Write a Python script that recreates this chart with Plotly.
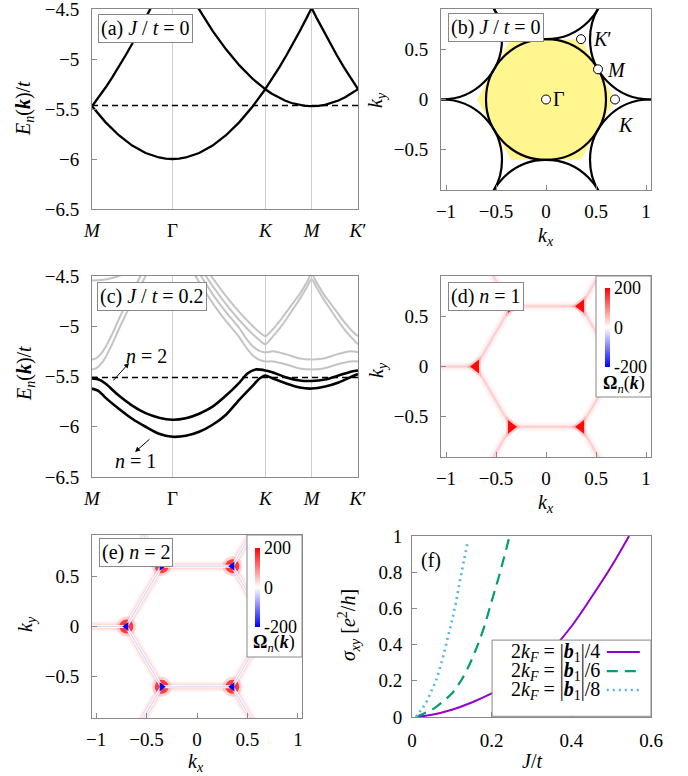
import plotly.graph_objects as go

SERIF = "Liberation Serif, Times New Roman, serif"
W, H = 688, 776

# ---------------- data ----------------
# path coordinate along M - Γ - K - M - K'
path_ticks = [0.0, 0.6, 1.293, 1.639, 1.985]
path_labels = ["<i>M</i>", "Γ", "<i>K</i>", "<i>M</i>", "<i>K</i>′"]
E_ticks = [-6.5, -6.0, -5.5, -5.0, -4.5]
E_ticklabels = ["−6.5", "−6", "−5.5", "−5", "−4.5"]

# (a) J/t = 0 bands
a_b1_s = [0, 0.1, 0.2, 0.3, 0.4, 0.45, 0.5, 0.55, 0.6, 0.65, 0.7, 0.8, 0.9, 1.0, 1.1, 1.2, 1.25, 1.293,
          1.339, 1.389, 1.439, 1.489, 1.539, 1.589, 1.639, 1.689, 1.739, 1.789, 1.839, 1.889, 1.939, 1.985]
a_b1_E = [-5.472, -5.631, -5.762, -5.866, -5.940, -5.966, -5.985, -5.996, -6.0, -5.996, -5.985, -5.940, -5.866,
          -5.762, -5.631, -5.472, -5.383, -5.302, -5.344, -5.383, -5.415, -5.440, -5.458, -5.469, -5.472,
          -5.469, -5.458, -5.440, -5.415, -5.383, -5.344, -5.302]
a_b2_s = [0, 0.05, 0.1, 0.15, 0.2, 0.25, 0.3, 0.35, 0.4, 0.45]
a_b2_E = [-5.472, -5.383, -5.288, -5.186, -5.079, -4.965, -4.847, -4.723, -4.594, -4.461]
a_b3_s = [0.75, 0.8, 0.9, 1.0, 1.1, 1.2, 1.293]
a_b3_E = [-4.399, -4.510, -4.718, -4.903, -5.064, -5.200, -5.302]
a_b4_s = [1.293, 1.350, 1.400, 1.450, 1.500, 1.550, 1.600, 1.639, 1.678, 1.728, 1.778, 1.828, 1.878, 1.928, 1.985]
a_b4_E = [-5.302, -5.186, -5.079, -4.965, -4.847, -4.723, -4.594, -4.490, -4.594, -4.723, -4.847, -4.965,
          -5.079, -5.186, -5.302]
a_EF = -5.465

# (c) J/t = 0.2 bands
c_n1_s = [0, 0.05, 0.1, 0.2, 0.3, 0.4, 0.5, 0.6, 0.7, 0.8, 0.9, 1.0, 1.1, 1.2, 1.25, 1.293, 1.35, 1.45, 1.55,
          1.639, 1.74, 1.84, 1.94, 1.985]
c_n1_E = [-5.62, -5.645, -5.71, -5.82, -5.92, -6.00, -6.07, -6.10, -6.09, -6.05, -5.98, -5.88, -5.73, -5.59,
          -5.52, -5.49, -5.52, -5.57, -5.61, -5.62, -5.60, -5.56, -5.50, -5.475]
c_n2_s = [0, 0.05, 0.1, 0.2, 0.3, 0.4, 0.5, 0.6, 0.7, 0.8, 0.9, 1.0, 1.1, 1.16, 1.22, 1.293, 1.35, 1.45, 1.55,
          1.639, 1.74, 1.84, 1.94, 1.985]
c_n2_E = [-5.52, -5.53, -5.57, -5.69, -5.79, -5.865, -5.91, -5.93, -5.915, -5.87, -5.80, -5.69, -5.56, -5.47,
          -5.43, -5.44, -5.46, -5.51, -5.54, -5.545, -5.53, -5.49, -5.45, -5.44]
c_EF = -5.51
# grey (other) bands
c_g1_s = [0, 0.03, 0.07, 0.1, 0.15, 0.2, 0.25, 0.3, 0.35, 0.4]
c_g1_E = [-5.33, -5.32, -5.27, -5.21, -5.08, -4.93, -4.79, -4.66, -4.53, -4.40]
c_g2_s = [0, 0.03, 0.07, 0.1, 0.15, 0.2, 0.25, 0.3, 0.35, 0.4, 0.45]
c_g2_E = [-5.43, -5.42, -5.37, -5.31, -5.18, -5.03, -4.89, -4.76, -4.63, -4.50, -4.37]
c_g3_s = [0, 0.1, 0.2, 0.3]
c_g3_E = [-4.545, -4.535, -4.50, -4.45]
c_v1_s = [0.85, 0.9, 1.0, 1.1, 1.2, 1.25, 1.293, 1.35, 1.4, 1.45, 1.5, 1.55, 1.6, 1.639,
          1.678, 1.728, 1.778, 1.828, 1.878, 1.935, 1.985]
c_v1_E = [-4.42, -4.52, -4.70, -4.86, -5.00, -5.06, -5.10, -5.03, -4.95, -4.86, -4.77, -4.68, -4.57, -4.48,
          -4.57, -4.68, -4.77, -4.86, -4.95, -5.04, -5.10]
c_v2_s = [0.8, 0.85, 0.9, 1.0, 1.1, 1.2, 1.25, 1.293, 1.35, 1.4, 1.45, 1.5, 1.55, 1.6, 1.639,
          1.678, 1.728, 1.778, 1.828, 1.878, 1.928, 1.985]
c_v2_E = [-4.39, -4.50, -4.60, -4.78, -4.94, -5.08, -5.14, -5.18, -5.10, -5.02, -4.93, -4.83, -4.73, -4.62, -4.53,
          -4.62, -4.73, -4.83, -4.93, -5.02, -5.10, -5.18]
c_f1_s = [0.75, 0.8, 0.9, 1.0, 1.1, 1.15, 1.2, 1.25, 1.293, 1.35, 1.45, 1.55, 1.639, 1.728, 1.828, 1.928, 1.985]
c_f1_E = [-4.36, -4.47, -4.68, -4.86, -5.02, -5.12, -5.20, -5.245, -5.26, -5.25, -5.28, -5.32, -5.33,
          -5.32, -5.28, -5.25, -5.26]
c_f2_s = [0.75, 0.8, 0.9, 1.0, 1.1, 1.15, 1.2, 1.25, 1.293, 1.35, 1.45, 1.55, 1.639, 1.728, 1.828, 1.928, 1.985]
c_f2_E = [-4.45, -4.56, -4.77, -4.95, -5.11, -5.21, -5.29, -5.335, -5.35, -5.35, -5.38, -5.42, -5.43,
          -5.42, -5.38, -5.35, -5.35]

# (b) Brillouin zone, Fermi circles, high-symmetry points
BZ_kx = [0.69, 0.35, -0.35, -0.69, -0.35, 0.35]
BZ_ky = [0.0, 0.60, 0.60, 0.0, -0.60, -0.60]
FS_cx = [0.0, 1.04, 0.0, -1.04, -1.04, 0.0, 1.04]
FS_cy = [0.0, 0.60, 1.20, 0.60, -0.60, -1.20, -0.60]
FS_r = 0.6
hs_kx = [0.0, 0.69, 0.52, 0.35]
hs_ky = [0.0, 0.0, 0.30, 0.60]

# (d),(e) Berry-curvature hot spots at the K points
HS_kx = [0.35, -0.35, -0.70, -0.35, 0.35, 0.70]
HS_ky = [0.60, 0.60, 0.00, -0.60, -0.60, 0.00]
HS_symbol = ["triangle-left", "triangle-right", "triangle-left", "triangle-right", "triangle-left", "triangle-right"]
omega_ticks = [-200, 0, 200]
omega_ticklabels = ["-200", "0", "200"]

# (f) Hall conductivity
f_J1 = [0.01, 0.05, 0.1, 0.15, 0.2, 0.25, 0.3, 0.35, 0.4, 0.45, 0.5, 0.545]
f_s1 = [0.0, 0.012, 0.04, 0.08, 0.13, 0.19, 0.27, 0.37, 0.50, 0.66, 0.83, 1.0]
f_J2 = [0.01, 0.03, 0.05, 0.08, 0.1, 0.12, 0.14, 0.16, 0.18, 0.2, 0.22, 0.245]
f_s2 = [0.0, 0.02, 0.04, 0.09, 0.13, 0.19, 0.27, 0.37, 0.49, 0.64, 0.79, 1.0]
f_J3 = [0.01, 0.02, 0.03, 0.04, 0.05, 0.06, 0.07, 0.08, 0.09, 0.1, 0.11, 0.12, 0.13, 0.14]
f_s3 = [0.0, 0.03, 0.06, 0.10, 0.15, 0.20, 0.27, 0.35, 0.44, 0.53, 0.63, 0.75, 0.86, 0.97]
f_names = ["2<i>k</i><sub><i>F</i></sub> = |<b><i>b</i></b><sub>1</sub>|/4",
           "2<i>k</i><sub><i>F</i></sub> = |<b><i>b</i></b><sub>1</sub>|/6",
           "2<i>k</i><sub><i>F</i></sub> = |<b><i>b</i></b><sub>1</sub>|/8"]

# ---------------- figure ----------------
fig = go.Figure()


def axn(n):
    return ("x", "y") if n == 1 else (f"x{n}", f"y{n}")


def add(n, **kw):
    xa, ya = axn(n)
    fig.add_trace(go.Scatter(xaxis=xa, yaxis=ya, showlegend=False, hoverinfo="skip", **kw))


BLACK = dict(color="black", width=2.3)
GREY = dict(color="#c4c4c4", width=2)

# (a)
for s, e in [(a_b1_s, a_b1_E), (a_b2_s, a_b2_E), (a_b3_s, a_b3_E), (a_b4_s, a_b4_E)]:
    add(1, x=s, y=e, mode="lines", line=BLACK)
add(1, x=[path_ticks[0], path_ticks[-1]], y=[a_EF, a_EF], mode="lines",
    line=dict(color="black", width=1.4, dash="6px,4px"))

# (c)
for s, e in [(c_g1_s, c_g1_E), (c_g2_s, c_g2_E), (c_g3_s, c_g3_E), (c_v1_s, c_v1_E), (c_v2_s, c_v2_E),
             (c_f1_s, c_f1_E), (c_f2_s, c_f2_E)]:
    add(3, x=s, y=e, mode="lines", line=dict(GREY, shape="spline", smoothing=0.6))
for s, e in [(c_n1_s, c_n1_E), (c_n2_s, c_n2_E)]:
    add(3, x=s, y=e, mode="lines", line=dict(BLACK, width=2.6, shape="spline", smoothing=0.7))
add(3, x=[path_ticks[0], path_ticks[-1]], y=[c_EF, c_EF], mode="lines",
    line=dict(color="black", width=1.4, dash="6px,4px"))

# (b) markers (zone + circles are shapes below)
add(2, x=hs_kx, y=hs_ky, mode="markers",
    marker=dict(size=9, color="white", line=dict(color="black", width=1)))

# (d),(e) lines along zone edges and radial lines from the K points
edge_x = HS_kx + [HS_kx[0]]
edge_y = HS_ky + [HS_ky[0]]
rad_x, rad_y = [], []
for kx, ky in zip(HS_kx, HS_ky):
    rad_x += [kx, 1.7 * kx, None]
    rad_y += [ky, 1.7 * ky, None]

CSCALE = [[0, "#0000ff"], [0.5, "#ffffff"], [1, "#ff0000"]]


def cbar(xpix, ypix):
    return dict(x=xpix / W, xanchor="left", xpad=0, y=1 - ypix / H, yanchor="top", ypad=0,
                len=79, lenmode="pixels", thickness=5, thicknessmode="pixels",
                tickmode="array", tickvals=omega_ticks, ticktext=omega_ticklabels, ticks="",
                tickfont=dict(family=SERIF, size=18, color="black"),
                bgcolor="rgba(0,0,0,0)", borderwidth=0, outlinewidth=0)


# (d) n = 1
for wdt, alp in [(9, 0.04), (4, 0.07), (1.5, 0.10)]:
    add(4, x=edge_x, y=edge_y, mode="lines", line=dict(color=f"rgba(255,0,0,{alp})", width=wdt))
    add(4, x=rad_x, y=rad_y, mode="lines", line=dict(color=f"rgba(255,0,0,{alp})", width=wdt))
add(4, x=HS_kx, y=HS_ky, mode="markers",
    marker=dict(size=19, symbol=HS_symbol, color="rgba(255,0,0,0.15)", line=dict(width=0)))
add(4, x=HS_kx, y=HS_ky, mode="markers",
    marker=dict(size=12, symbol=HS_symbol, color="rgba(255,0,0,0.95)", line=dict(width=0)))
add(4, x=[0, 0], y=[0, 0], mode="markers",
    marker=dict(size=1, opacity=0, color=omega_ticks[::2], cmin=-200, cmax=200, colorscale=CSCALE,
                showscale=True, colorbar=cbar(605, 288)))

# (e) n = 2
for wdt, alp in [(10, 0.05), (6, 0.09)]:
    add(5, x=edge_x, y=edge_y, mode="lines", line=dict(color=f"rgba(255,0,0,{alp})", width=wdt))
    add(5, x=rad_x, y=rad_y, mode="lines", line=dict(color=f"rgba(255,0,0,{alp})", width=wdt))
add(5, x=HS_kx, y=HS_ky, mode="markers",
    marker=dict(size=20, color="rgba(255,0,0,0.15)", line=dict(width=0)))
add(5, x=HS_kx, y=HS_ky, mode="markers",
    marker=dict(size=14, color="rgba(255,0,0,0.7)", line=dict(width=0)))
add(5, x=edge_x, y=edge_y, mode="lines", line=dict(color="rgba(255,255,255,0.95)", width=3))
add(5, x=rad_x, y=rad_y, mode="lines", line=dict(color="rgba(255,255,255,0.95)", width=3))
add(5, x=edge_x, y=edge_y, mode="lines", line=dict(color="rgba(170,180,255,0.5)", width=1.2))
add(5, x=rad_x, y=rad_y, mode="lines", line=dict(color="rgba(170,180,255,0.5)", width=1.2))
add(5, x=HS_kx, y=HS_ky, mode="markers",
    marker=dict(size=8, symbol=HS_symbol, color="#0000ff", line=dict(width=0)))
add(5, x=[0, 0], y=[0, 0], mode="markers",
    marker=dict(size=1, opacity=0, color=omega_ticks[::2], cmin=-200, cmax=200, colorscale=CSCALE,
                showscale=True, colorbar=cbar(255, 548)))

# (f)
f_styles = [dict(color="#9400d3", width=2),
            dict(color="#009e73", width=2.2, dash="11px,7px"),
            dict(color="#56b4e9", width=2.6, dash="2px,4px")]
for J, s, st in zip([f_J1, f_J2, f_J3], [f_s1, f_s2, f_s3], f_styles):
    add(6, x=J, y=s, mode="lines", line=dict(st, shape="spline"))

# ---------------- axes ----------------
def dom_x(a, b):
    return [a / W, b / W]


def dom_y(top, bot):
    return [1 - bot / H, 1 - top / H]


def axis(domain, rng, tv, tt, anchor, ticks="inside", grid=False, standoff=8):
    return dict(domain=domain, range=rng, tickmode="array", tickvals=tv, ticktext=tt, anchor=anchor,
                showline=True, linecolor="#888", linewidth=1, mirror=True, ticks=ticks, ticklen=5,
                tickcolor="#888", showgrid=grid, gridcolor="#cfcfcf", gridwidth=1, zeroline=False,
                tickfont=dict(family=SERIF, size=19, color="black"), ticklabelstandoff=standoff,
                ticklabeloverflow="allow", automargin=False, fixedrange=True)


k_ticks = [-1, -0.5, 0, 0.5, 1]
k_ticklabels = ["−1", "−0.5", "0", "0.5", "1"]
ky_ticks = [-0.5, 0, 0.5]
ky_ticklabels = ["−0.5", "0", "0.5"]

layout = dict(
    width=W, height=H, margin=dict(l=0, r=0, t=0, b=0, autoexpand=False), paper_bgcolor="white",
    plot_bgcolor="white", showlegend=False, font=dict(family=SERIF, size=18, color="black"),
    xaxis=axis(dom_x(92, 358), [0, 1.985], path_ticks, path_labels, "y", ticks="", grid=True, standoff=4),
    yaxis=axis(dom_y(9, 209), [-6.5, -4.5], E_ticks, E_ticklabels, "x"),
    xaxis2=axis(dom_x(441, 651), [-1.05, 1.05], k_ticks, k_ticklabels, "y2", standoff=4),
    yaxis2=axis(dom_y(9, 190), [-0.9, 0.9], ky_ticks, ky_ticklabels, "x2"),
    xaxis3=axis(dom_x(92, 358), [0, 1.985], path_ticks, path_labels, "y3", ticks="", grid=True, standoff=4),
    yaxis3=axis(dom_y(276, 477), [-6.5, -4.5], E_ticks, E_ticklabels, "x3"),
    xaxis4=axis(dom_x(441, 651), [-1.05, 1.05], k_ticks, k_ticklabels, "y4", standoff=4),
    yaxis4=axis(dom_y(276, 457), [-0.9, 0.9], ky_ticks, ky_ticklabels, "x4"),
    xaxis5=axis(dom_x(92, 302), [-1.04, 1.04], k_ticks, k_ticklabels, "y5", standoff=4),
    yaxis5=axis(dom_y(535, 718), [-0.91, 0.91], ky_ticks, ky_ticklabels, "x5"),
    xaxis6=axis(dom_x(412, 651), [0, 0.6], [0, 0.2, 0.4, 0.6], ["0", "0.2", "0.4", "0.6"], "y6", standoff=6),
    yaxis6=axis(dom_y(536, 717), [0, 1], [0, 0.2, 0.4, 0.6, 0.8, 1], ["0", "0.2", "0.4", "0.6", "0.8", "1"],
                "x6", standoff=5),
)

# shapes: (b) zone + circles, colour-bar boxes, (f) legend
shapes = []
hex_path = "M " + " L ".join(f"{x},{y}" for x, y in zip(BZ_kx, BZ_ky)) + " Z"
shapes.append(dict(type="path", path=hex_path, xref="x2", yref="y2", fillcolor="#fff68f",
                   line=dict(width=0), layer="below"))
for cx, cy in zip(FS_cx, FS_cy):
    shapes.append(dict(type="circle", xref="x2", yref="y2", x0=cx - FS_r, x1=cx + FS_r, y0=cy - FS_r,
                       y1=cy + FS_r, line=dict(color="black", width=2.2), layer="below"))

for (x0, x1, y0, y1) in [(596, 651, 276, 397), (247, 302, 535, 657)]:
    shapes.append(dict(type="rect", xref="paper", yref="paper", x0=x0 / W, x1=x1 / W, y0=1 - y1 / H,
                       y1=1 - y0 / H, line=dict(color="#888", width=1), fillcolor="white", layer="above"))

leg_y = [0.359, 0.254, 0.149]
shapes.append(dict(type="rect", xref="x6", yref="y6", x0=0.201, x1=0.6, y0=0.004, y1=0.425,
                   line=dict(color="#888", width=1), fillcolor="white", layer="above"))
for yy, st in zip(leg_y, f_styles):
    shapes.append(dict(type="line", xref="x6", yref="y6", x0=0.489, x1=0.572, y0=yy, y1=yy,
                       line=dict(color=st["color"], width=st["width"], dash=st.get("dash", "solid")),
                       layer="above"))

annotations = []


def text(x, y, t, size=18, xanchor="center", yanchor="middle", angle=0, **kw):
    annotations.append(dict(x=x / W, y=1 - y / H, xref="paper", yref="paper", text=t, showarrow=False,
                            xanchor=xanchor, yanchor=yanchor, textangle=angle,
                            font=dict(family=SERIF, size=size, color="black"), **kw))


# axis titles
Etitle = "<i>E<sub>n</sub></i>(<b><i>k</i></b>)/<i>t</i>"
text(25, 109, Etitle, 20, angle=-90)
text(25, 374, Etitle, 20, angle=-90)
text(377, 100, "<i>k<sub>y</sub></i>", 20, angle=-90)
text(546, 236, "<i>k<sub>x</sub></i>", 20)
text(377, 370, "<i>k<sub>y</sub></i>", 20, angle=-90)
text(546, 503, "<i>k<sub>x</sub></i>", 20)
text(26, 624, "<i>k<sub>y</sub></i>", 20, angle=-90)
text(196, 762, "<i>k<sub>x</sub></i>", 20)
text(349, 625, "<i>σ<sub>xy</sub></i> [<i>e</i><sup>2</sup>/<i>h</i>]", 20, angle=-90)
text(532, 761, "<i>J</i>/<i>t</i>", 20)
# colour-bar titles
OMEGA = "<b>Ω</b><sub><i>n</i></sub>(<b><i>k</i></b>)"
text(624, 384, OMEGA, 18)
text(274, 643, OMEGA, 18)


def panel(n, xd, yd, t, box=True):
    xa, ya = axn(n)
    d = dict(x=xd, y=yd, xref=f"{xa} domain", yref=f"{ya} domain", text=t, showarrow=False,
             xanchor="left", yanchor="top", font=dict(family=SERIF, size=20, color="black"))
    if box:
        d.update(bordercolor="#888", borderwidth=1, borderpad=2, bgcolor="white")
    annotations.append(d)


panel(1, 0.023, 0.975, "(a) <i>J</i> / <i>t</i> = 0")
panel(2, 0.033, 0.978, "(b) <i>J</i> / <i>t</i> = 0")
panel(3, 0.019, 0.970, "(c) <i>J</i> / <i>t</i> = 0.2")
panel(4, 0.033, 0.967, "(d) <i>n</i> = 1")
panel(5, 0.033, 0.984, "(e) <i>n</i> = 2")
panel(6, 0.03, 0.94, "(f)", box=False)

# (b) point labels
for x, y, t in [(0.05, 0.0, "Γ"), (0.59, 0.29, "<i>M</i>"), (0.45, 0.60, "<i>K</i>′"), (0.70, -0.25, "<i>K</i>")]:
    annotations.append(dict(x=x, y=y, xref="x2", yref="y2", text=t, showarrow=False, xanchor="left",
                            yanchor="middle", font=dict(family=SERIF, size=20, color="black")))

# (c) band labels and arrows
annotations.append(dict(x=0.41, y=-5.296, xref="x3", yref="y3", text="<i>n</i> = 2", showarrow=False,
                        font=dict(family=SERIF, size=20, color="black")))
annotations.append(dict(x=0.321, y=-6.34, xref="x3", yref="y3", text="<i>n</i> = 1", showarrow=False,
                        font=dict(family=SERIF, size=20, color="black")))
annotations.append(dict(x=0.276, y=-5.366, ax=0.149, ay=-5.555, xref="x3", yref="y3", axref="x3", ayref="y3",
                        text="", showarrow=True, arrowhead=2, arrowsize=1, arrowwidth=1, arrowcolor="black"))
annotations.append(dict(x=0.321, y=-6.251, ax=0.44, ay=-6.112, xref="x3", yref="y3", axref="x3", ayref="y3",
                        text="", showarrow=True, arrowhead=2, arrowsize=1, arrowwidth=1, arrowcolor="black"))

# (f) legend texts
for yy, name in zip(leg_y, f_names):
    annotations.append(dict(x=0.477, y=yy, xref="x6", yref="y6", text=name, showarrow=False, xanchor="right",
                            yanchor="middle", font=dict(family=SERIF, size=20, color="black")))

layout["shapes"] = shapes
layout["annotations"] = annotations
fig.update_layout(**layout)
fig.write_html("out.html", config={"displayModeBar": False, "staticPlot": True},
               post_script="document.body.style.margin='0px';")
